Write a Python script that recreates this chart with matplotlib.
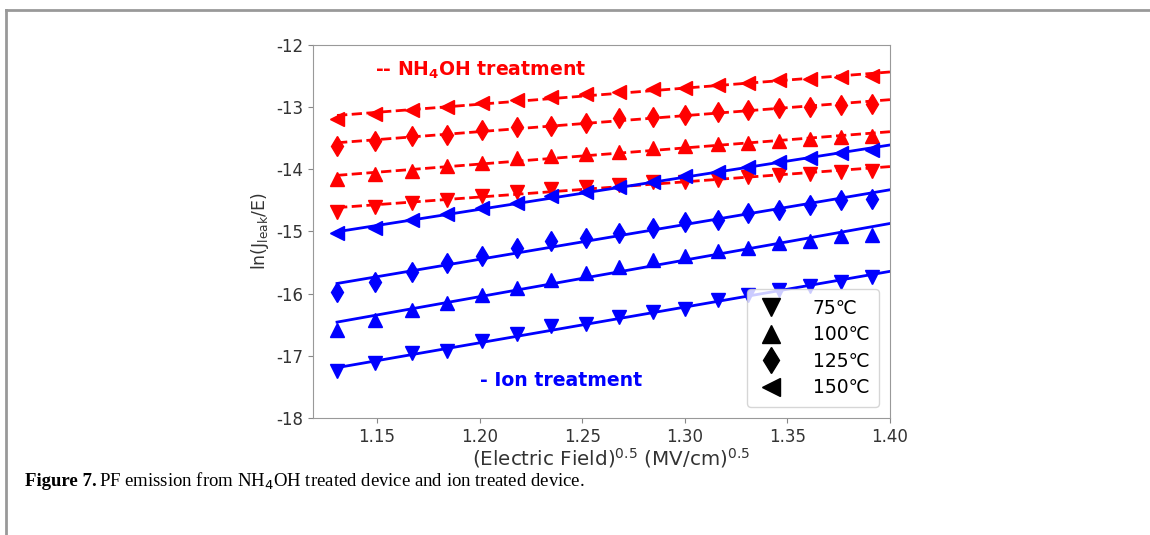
import numpy as np
import matplotlib
matplotlib.use("Agg")
import matplotlib.pyplot as plt
from matplotlib.lines import Line2D

# sqrt(E) values
x = [1.1305, 1.149, 1.167, 1.184, 1.201, 1.218, 1.235, 1.252, 1.268,
     1.2845, 1.300, 1.316, 1.331, 1.346, 1.361, 1.376, 1.391]

# NH4OH treated device
nh4_75 = [-14.68, -14.60, -14.54, -14.49, -14.43, -14.36, -14.32, -14.28, -14.25,
          -14.20, -14.20, -14.17, -14.12, -14.09, -14.07, -14.04, -14.02]
nh4_100 = [-14.16, -14.08, -14.03, -13.95, -13.90, -13.82, -13.79, -13.75, -13.72,
           -13.66, -13.63, -13.60, -13.58, -13.54, -13.52, -13.48, -13.47]
nh4_125 = [-13.62, -13.55, -13.47, -13.45, -13.37, -13.32, -13.30, -13.25, -13.18,
           -13.16, -13.13, -13.07, -13.05, -13.02, -12.99, -12.96, -12.95]
nh4_150 = [-13.19, -13.11, -13.05, -12.99, -12.93, -12.88, -12.84, -12.79, -12.75,
           -12.71, -12.69, -12.64, -12.61, -12.57, -12.55, -12.52, -12.50]

# ion treated device
ion_75 = [-17.25, -17.12, -16.96, -16.92, -16.76, -16.65, -16.52, -16.49, -16.37,
          -16.29, -16.24, -16.10, -16.02, -15.94, -15.88, -15.81, -15.74]
ion_100 = [-16.58, -16.42, -16.27, -16.15, -16.02, -15.91, -15.78, -15.67, -15.57,
           -15.46, -15.39, -15.32, -15.27, -15.19, -15.15, -15.08, -15.06]
ion_125 = [-15.97, -15.82, -15.65, -15.51, -15.39, -15.27, -15.16, -15.11, -15.02,
           -14.95, -14.84, -14.81, -14.71, -14.65, -14.57, -14.49, -14.48]
ion_150 = [-15.03, -14.95, -14.81, -14.72, -14.63, -14.54, -14.43, -14.36, -14.28,
           -14.20, -14.11, -14.04, -13.96, -13.89, -13.82, -13.74, -13.69]

temps = ["75\u2103", "100\u2103", "125\u2103", "150\u2103"]
markers = ["v", "^", "d", "<"]

fig = plt.figure(figsize=(11.5, 5.35), dpi=100)
ax = fig.add_axes([0.2722, 0.2187, 0.5017, 0.6972])

xs = np.array(x)
xfit = np.linspace(xs[0], 1.40, 50)
for series, color, ls in [([nh4_75, nh4_100, nh4_125, nh4_150], "red", "--"),
                          ([ion_75, ion_100, ion_125, ion_150], "blue", "-")]:
    for ys, m in zip(series, markers):
        ax.plot(xs, ys, linestyle="none", marker=m, color=color, markersize=10.5)
        p = np.polyfit(xs, ys, 1)
        ax.plot(xfit, np.polyval(p, xfit), ls, color=color, lw=2)

ax.set_xlim(1.1188, 1.40)
ax.set_ylim(-18, -12)
ax.set_xticks([1.15, 1.20, 1.25, 1.30, 1.35, 1.40])
ax.set_xticklabels(["1.15", "1.20", "1.25", "1.30", "1.35", "1.40"])
ax.set_yticks(range(-18, -11))
ax.set_yticklabels([str(v) for v in range(-18, -11)])
ax.tick_params(labelsize=12, colors="#333333", color="#888888")
for s in ax.spines.values():
    s.set_color("#999999")

ax.set_xlabel("(Electric Field)$^{0.5}$ (MV/cm)$^{0.5}$", fontsize=14.3,
              color="#333333", labelpad=1)
ax.xaxis.set_label_coords(0.517, -0.075)
ax.set_ylabel("ln(J$_{\\mathrm{leak}}$/E)", fontsize=12.5, color="#333333")

ax.text(1.149, -12.40, "-- NH$_\\mathbf{4}$OH treatment", color="red",
        fontsize=13.6, fontweight="bold", va="center")
ax.text(1.200, -17.39, "- Ion treatment", color="blue",
        fontsize=13.6, fontweight="bold", va="center")

handles = [Line2D([], [], linestyle="none", marker=m, color="black", markersize=13)
           for m in markers]
ax.legend(handles, temps, loc="lower right", fontsize=13.5, handletextpad=1.5,
          borderpad=0.5, labelspacing=0.4, handlelength=1.5, borderaxespad=0.6)

# caption and page frame
fig.text(0.022, 0.10, "Figure 7.", fontsize=13.5, fontweight="bold",
         family="Liberation Serif", va="center")
fig.text(0.0865, 0.10, "PF emission from NH$_4$OH treated device and ion treated device.",
         fontsize=13.5, family="Liberation Serif", va="center")
fig.add_artist(Line2D([0.0055, 1.0], [0.9815, 0.9815], color="#999999", lw=2))
fig.add_artist(Line2D([0.0055, 0.0055], [0.0, 0.9815], color="#999999", lw=2))

fig.savefig("out.png", dpi=100)
